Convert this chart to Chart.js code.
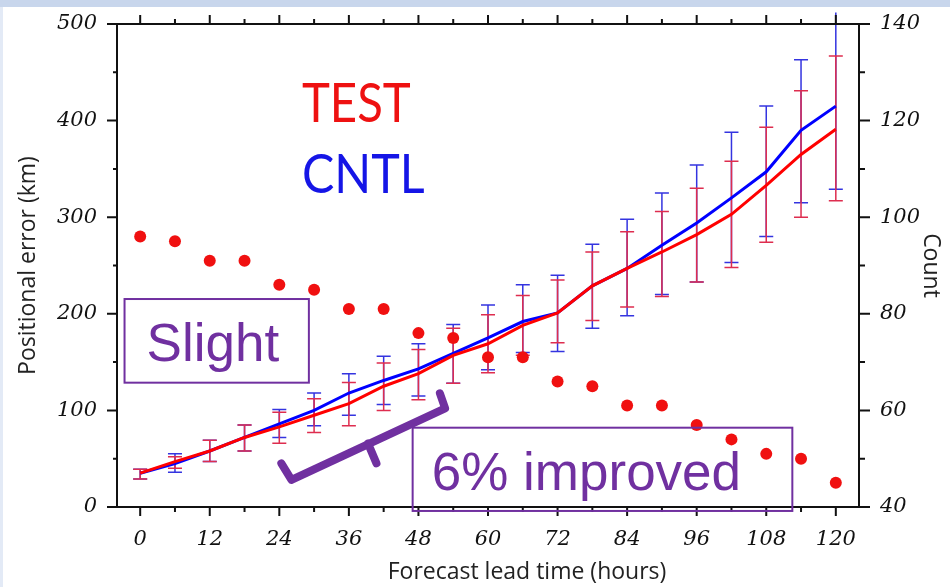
<!DOCTYPE html>
<html>
<head>
<meta charset="utf-8">
<script src="https://cdn.jsdelivr.net/npm/chart.js@4.4.1/dist/chart.umd.min.js"></script>
<style>
  html, body { margin: 0; padding: 0; background: #fff; }
</style>
</head>
<body>
<canvas id="errChart" width="950" height="587"></canvas>
<script>
// forecast lead time (hours)
var hours = [0, 6, 12, 18, 24, 30, 36, 42, 48, 54, 60, 66, 72, 78, 84, 90, 96, 102, 108, 114, 120];

// positional error (km)
var testMean  = [35, 47, 58, 72, 83, 95, 107, 125, 138, 157, 169, 188, 201, 229, 247, 264, 282, 303, 333, 365, 391];
var testUpper = [39, 52, 69, 85, 98, 112, 129, 149, 163, 185, 199, 219, 235, 264, 285, 306, 330, 358, 393, 431, 467];
var testLower = [29, 40, 47, 58, 66, 77, 84, 100, 111, 128, 139, 157, 170, 193, 207, 218, 233, 248, 274, 300, 317];

var cntlMean  = [35, 45, 58, 72, 86, 100, 118, 131, 143, 159, 175, 192, 201, 229, 247, 271, 294, 320, 347, 390, 415];
var cntlUpper = [39, 55, 69, 85, 101, 118, 138, 156, 169, 189, 209, 230, 240, 272, 298, 325, 354, 388, 415, 463, 512];
var cntlLower = [29, 36, 47, 58, 72, 84, 95, 106, 115, 128, 142, 160, 161, 185, 198, 220, 233, 253, 280, 315, 329];

// number of cases
var countVals = [96, 95, 91, 91, 86, 85, 81, 81, 76, 75, 71, 71, 66, 65, 61, 61, 57, 54, 51, 50, 45];

// tick labels
var hourLabels  = [0, 12, 24, 36, 48, 60, 72, 84, 96, 108, 120];
var kmLabels    = [0, 100, 200, 300, 400, 500];
var countLabels = [40, 60, 80, 100, 120, 140];
var kmMinor     = [0, 50, 100, 150, 200, 250, 300, 350, 400, 450, 500];
var countMinor  = [40, 50, 60, 70, 80, 90, 100, 110, 120, 130, 140];

var purple = '#7030a0';
var tickFont = { family: 'DejaVu Serif', style: 'italic', size: 21 };

function pts(vals) {
    return hours.map(function (h, i) { return { x: h, y: vals[i] }; });
}

function errorBars(chart, lo, hi, color) {
    var xs = chart.scales.x, ys = chart.scales.y, c = chart.ctx;
    c.save();
    c.strokeStyle = color;
    c.lineWidth = 1.5;
    hours.forEach(function (h, i) {
        var px = xs.getPixelForValue(h);
        var p1 = ys.getPixelForValue(lo[i]);
        var p2 = ys.getPixelForValue(hi[i]);
        c.beginPath();
        c.moveTo(px, p1); c.lineTo(px, p2);
        c.moveTo(px - 7, p1); c.lineTo(px + 7, p1);
        if (hi[i] <= ys.max) { c.moveTo(px - 7, p2); c.lineTo(px + 7, p2); }
        c.stroke();
    });
    c.restore();
}

// narrow word, like the Calibri labels in the original slide
function squeezed(c, text, x, y, sx) {
    c.save();
    c.translate(x, y);
    c.scale(sx, 1);
    c.fillText(text, 0, 0);
    c.restore();
}

var overlay = {
    id: 'overlay',
    beforeDraw: function (chart) {
        var c = chart.ctx;
        c.save();
        c.fillStyle = '#fff';
        c.fillRect(0, 0, chart.width, chart.height);
        c.restore();
    },
    beforeDatasetsDraw: function (chart) {
        errorBars(chart, cntlLower, cntlUpper, '#3434e0');
        errorBars(chart, testLower, testUpper, '#de2d4f');
    },
    afterDraw: function (chart) {
        var c = chart.ctx, a = chart.chartArea;
        var xs = chart.scales.x, ys = chart.scales.y, y2 = chart.scales.y2;
        c.save();

        // page band
        c.fillStyle = '#c8d6ec';
        c.fillRect(0, 0, chart.width, 7);
        c.fillStyle = '#e3eaf6';
        c.fillRect(0, 7, 3, chart.height - 7);

        // frame + ticks
        c.strokeStyle = '#111';
        c.lineWidth = 2;
        c.strokeRect(a.left, a.top, a.right - a.left, a.bottom - a.top);
        c.beginPath();
        hours.forEach(function (h) {
            var px = xs.getPixelForValue(h), len = h % 12 === 0 ? 9 : 5;
            c.moveTo(px, a.bottom); c.lineTo(px, a.bottom + len);
            c.moveTo(px, a.top); c.lineTo(px, a.top - len);
        });
        kmMinor.forEach(function (v) {
            var py = ys.getPixelForValue(v), len = v % 100 === 0 ? 10 : 4;
            c.moveTo(a.left, py); c.lineTo(a.left - len, py);
        });
        countMinor.forEach(function (v) {
            var py = y2.getPixelForValue(v), len = v % 20 === 0 ? 11 : 6;
            c.moveTo(a.right, py); c.lineTo(a.right + len, py);
        });
        c.stroke();

        // x axis title
        c.fillStyle = '#222';
        c.font = '23px "Open Sans"';
        c.textAlign = 'center';
        c.textBaseline = 'middle';
        c.fillText('Forecast lead time (hours)', 527, 572);

        // legend words
        c.textAlign = 'left';
        c.textBaseline = 'alphabetic';
        c.font = '55px Lato';
        c.fillStyle = '#ee1111';
        squeezed(c, 'TEST', xs.getPixelForValue(27.9), ys.getPixelForValue(398.6), 0.86);
        c.fillStyle = '#1515e6';
        squeezed(c, 'CNTL', xs.getPixelForValue(27.9), ys.getPixelForValue(325), 0.88);

        // boxes
        c.strokeStyle = purple;
        c.lineWidth = 2;
        [[-2.7, 128.7, 29.1, 215.3], [47.0, -4.1, 112.5, 82.1]].forEach(function (b) {
            var x0 = xs.getPixelForValue(b[0]), x1 = xs.getPixelForValue(b[2]);
            var y0 = ys.getPixelForValue(b[3]), y1 = ys.getPixelForValue(b[1]);
            c.strokeRect(x0, y0, x1 - x0, y1 - y0);
        });
        c.fillStyle = purple;
        c.font = '53px "Liberation Sans"';
        c.fillText('Slight', xs.getPixelForValue(1.1), ys.getPixelForValue(151));
        c.fillText('6% improved', xs.getPixelForValue(50.3), ys.getPixelForValue(17.6));

        // bracket
        c.lineWidth = 8;
        c.lineJoin = 'round';
        c.lineCap = 'round';
        c.beginPath();
        [[24.35, 45.2], [26.1, 28], [52.6, 102.2], [51.7, 117.7]].forEach(function (p, i) {
            var px = xs.getPixelForValue(p[0]), py = ys.getPixelForValue(p[1]);
            if (i === 0) c.moveTo(px, py); else c.lineTo(px, py);
        });
        c.moveTo(xs.getPixelForValue(39.3), ys.getPixelForValue(65.9));
        c.lineTo(xs.getPixelForValue(40.76), ys.getPixelForValue(45.2));
        c.stroke();

        c.restore();
    }
};

var ctx = document.getElementById('errChart').getContext('2d');
var errChart = new Chart(ctx, {
    type: 'line',
    data: {
        datasets: [{
            label: 'Count',
            data: pts(countVals),
            yAxisID: 'y2',
            showLine: false,
            pointRadius: 6,
            pointBorderWidth: 0,
            pointBackgroundColor: '#f01010'
        }, {
            label: 'TEST',
            data: pts(testMean),
            yAxisID: 'y',
            borderColor: '#ff0000',
            borderWidth: 3,
            pointRadius: 0,
            tension: 0
        }, {
            label: 'CNTL',
            data: pts(cntlMean),
            yAxisID: 'y',
            borderColor: '#0000ff',
            borderWidth: 3,
            pointRadius: 0,
            tension: 0
        }]
    },
    options: {
        responsive: false,
        animation: false,
        layout: { padding: { top: 24, left: 0, right: 0, bottom: 0 } },
        plugins: { legend: { display: false }, tooltip: { enabled: false } },
        scales: {
            x: {
                type: 'linear',
                min: -4,
                max: 124,
                afterBuildTicks: function (s) { s.ticks = hourLabels.map(function (v) { return { value: v }; }); },
                afterFit: function (s) { s.height = 80; s.paddingLeft = 0; s.paddingRight = 0; },
                grid: { display: false, drawTicks: false },
                border: { display: false },
                ticks: { padding: 20, font: tickFont, color: '#111', maxRotation: 0, autoSkip: false }
            },
            y: {
                position: 'left',
                min: 0,
                max: 500,
                afterBuildTicks: function (s) { s.ticks = kmLabels.map(function (v) { return { value: v }; }); },
                afterFit: function (s) { s.width = 117; s.paddingTop = 0; s.paddingBottom = 0; },
                grid: { display: false, drawTicks: false },
                border: { display: false },
                ticks: { padding: 20, font: tickFont, color: '#111' },
                title: {
                    display: true,
                    text: 'Positional error (km)',
                    color: '#222',
                    font: { family: 'Open Sans', size: 23 },
                    padding: { top: 15, bottom: 0 }
                }
            },
            y2: {
                position: 'right',
                min: 40,
                max: 140,
                afterBuildTicks: function (s) { s.ticks = countLabels.map(function (v) { return { value: v }; }); },
                afterFit: function (s) { s.width = 91; s.paddingTop = 0; s.paddingBottom = 0; },
                grid: { display: false, drawTicks: false },
                border: { display: false },
                ticks: { padding: 21, font: tickFont, color: '#111' },
                title: {
                    display: true,
                    text: 'Count',
                    color: '#222',
                    font: { family: 'Open Sans', size: 23 },
                    padding: { top: 6, bottom: 0 }
                }
            }
        }
    },
    plugins: [overlay]
});
</script>
</body>
</html>
